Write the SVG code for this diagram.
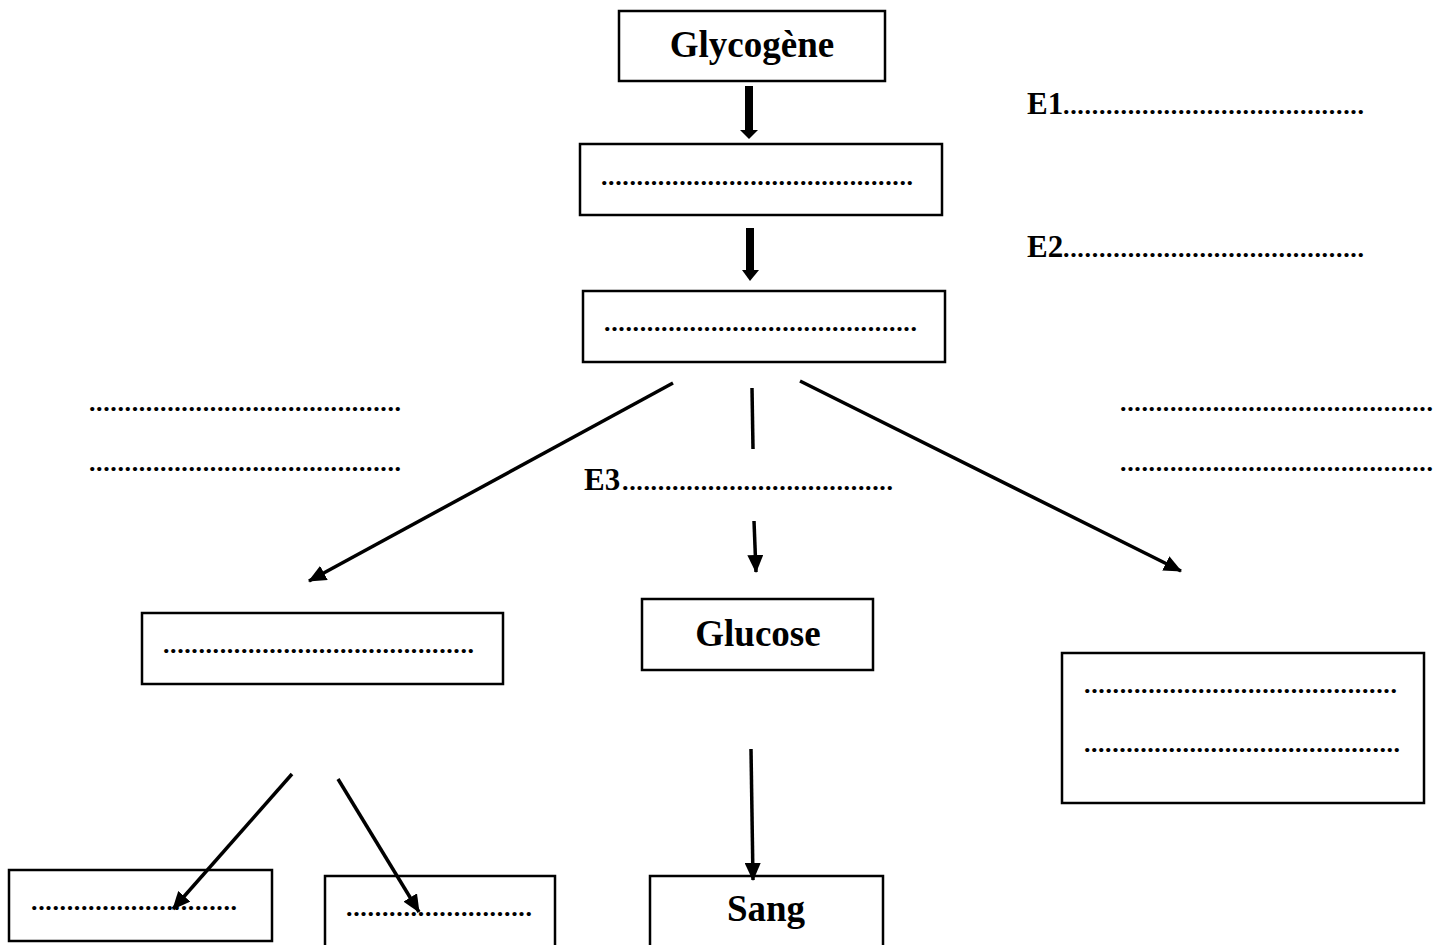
<svg xmlns="http://www.w3.org/2000/svg" width="1444" height="945" viewBox="0 0 1444 945">
<style>
.box{fill:#fff;stroke:#000;stroke-width:2.5}
.t{font-family:"Liberation Serif","Times New Roman",serif;font-weight:bold;fill:#000}
.big{font-size:37px}
.lab{font-size:31px}
.dots{font-size:26px}
.ln{stroke:#000;stroke-width:3.5;fill:none}
</style>
<defs>
<marker id="ah" markerUnits="userSpaceOnUse" markerWidth="18" markerHeight="16" refX="17" refY="8" orient="auto" viewBox="0 0 18 16">
<path d="M0,0 L18,8 L0,16 z" fill="#000"/>
</marker>
</defs>
<rect width="1444" height="945" fill="#fff"/>

<g id="glycogene">
<rect class="box" x="619" y="11" width="266" height="70"/>
<text class="t big" x="752" y="57" text-anchor="middle">Glycogène</text>
</g>
<g id="box2">
<rect class="box" x="580" y="144" width="362" height="71"/>
<text class="t dots" x="601" y="185" textLength="312" lengthAdjust="spacing">............................................</text>
</g>
<g id="box3">
<rect class="box" x="583" y="291" width="362" height="71"/>
<text class="t dots" x="604" y="331" textLength="313" lengthAdjust="spacing">............................................</text>
</g>
<g id="e1">
<text class="t lab" x="1027" y="114">E1</text>
<text class="t dots" x="1063" y="114" textLength="301" lengthAdjust="spacing">..........................................</text>
</g>
<g id="e2">
<text class="t lab" x="1027" y="257">E2</text>
<text class="t dots" x="1063" y="257" textLength="301" lengthAdjust="spacing">..........................................</text>
</g>
<g id="e3">
<text class="t lab" x="584" y="490">E3</text>
<text class="t dots" x="622" y="490" textLength="271" lengthAdjust="spacing">......................................</text>
</g>
<g id="left-notes">
<text class="t dots" x="89" y="411" textLength="312" lengthAdjust="spacing">............................................</text>
<text class="t dots" x="89" y="471" textLength="312" lengthAdjust="spacing">............................................</text>
</g>
<g id="right-notes">
<text class="t dots" x="1120" y="411" textLength="313" lengthAdjust="spacing">............................................</text>
<text class="t dots" x="1120" y="471" textLength="313" lengthAdjust="spacing">............................................</text>
</g>
<g id="box-left">
<rect class="box" x="142" y="613" width="361" height="71"/>
<text class="t dots" x="163" y="653" textLength="311" lengthAdjust="spacing">............................................</text>
</g>
<g id="glucose">
<rect class="box" x="642" y="599" width="231" height="71"/>
<text class="t big" x="758" y="646" text-anchor="middle">Glucose</text>
</g>
<g id="box-right">
<rect class="box" x="1062" y="653" width="362" height="150"/>
<text class="t dots" x="1084" y="693" textLength="313" lengthAdjust="spacing">............................................</text>
<text class="t dots" x="1084" y="752" textLength="316" lengthAdjust="spacing">.............................................</text>
</g>
<g id="box-bl">
<rect class="box" x="9" y="870" width="263" height="71"/>
<text class="t dots" x="31" y="910" textLength="206" lengthAdjust="spacing">.............................</text>
</g>
<g id="box-bm">
<rect class="box" x="325" y="876" width="230" height="75"/>
<text class="t dots" x="346" y="916" textLength="186" lengthAdjust="spacing">..........................</text>
</g>
<g id="sang">
<rect class="box" x="650" y="876" width="233" height="75"/>
<text class="t big" x="766" y="921" text-anchor="middle">Sang</text>
</g>

<g id="connectors">
<rect x="745" y="86" width="8" height="45" fill="#000"/>
<polygon points="740,130 758,130 749,139" fill="#000"/>
<rect x="746" y="228" width="8" height="43" fill="#000"/>
<polygon points="742,270 759,270 750,281" fill="#000"/>
<line class="ln" x1="673" y1="383" x2="309" y2="581" marker-end="url(#ah)"/>
<line class="ln" x1="800" y1="381" x2="1181" y2="571" marker-end="url(#ah)"/>
<line class="ln" x1="752" y1="388" x2="753" y2="449"/>
<line class="ln" x1="754" y1="521" x2="756" y2="572" marker-end="url(#ah)"/>
<line class="ln" x1="751" y1="749" x2="753" y2="880" marker-end="url(#ah)"/>
<line class="ln" x1="292" y1="774" x2="173" y2="909" marker-end="url(#ah)"/>
<line class="ln" x1="338" y1="779" x2="419" y2="912" marker-end="url(#ah)"/>
</g>
</svg>
